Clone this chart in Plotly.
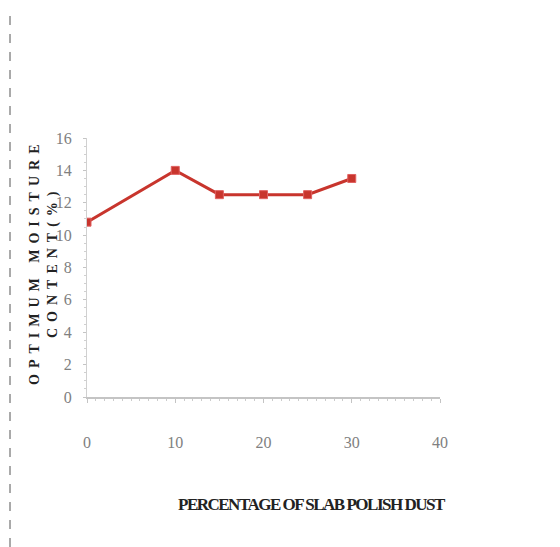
import plotly.graph_objects as go

# Data
slab_dust_pct = [0, 10, 15, 20, 25, 30]
omc_pct = [10.8, 14.0, 12.5, 12.5, 12.5, 13.5]
x_ticks = [0, 10, 20, 30, 40]
y_ticks = [0, 2, 4, 6, 8, 10, 12, 14, 16]

W, H = 560, 547
OFF = 8  # page body margin
L, R, T, B = 87 - OFF, 120 + OFF, 138 - OFF, 150 + OFF
pw, ph = W - L - R, H - T - B


def px(xp):
    return (xp - OFF - L) / pw


def py(yp):
    return (H - B - (yp - OFF)) / ph


fig = go.Figure()
fig.add_trace(go.Scatter(
    x=slab_dust_pct, y=omc_pct, mode="lines+markers",
    line=dict(color="#c8352d", width=3),
    marker=dict(symbol="square", size=8, color="#c8352d",
                line=dict(color="#e06060", width=1)),
    showlegend=False,
))

axis_font = dict(family="Liberation Serif", size=16, color="#808080")
fig.update_xaxes(
    range=[0, 40], tickvals=x_ticks, showgrid=False, zeroline=False,
    showline=True, linecolor="#c4c4c4", linewidth=2,
    ticks="outside", ticklen=4, tickcolor="#c4c4c4",
    minor=dict(ticks="outside", ticklen=2, tickcolor="#cccccc", dtick=1),
    tickfont=axis_font, ticklabelstandoff=26,
)
fig.update_yaxes(
    range=[0, 16], tickvals=y_ticks, showgrid=False, zeroline=False,
    showline=True, linecolor="#d0d0d0", linewidth=1,
    ticks="outside", ticklen=3, tickcolor="#c4c4c4",
    minor=dict(ticks="outside", ticklen=2, tickcolor="#d0d0d0", dtick=0.5),
    tickfont=axis_font, ticklabelstandoff=8,
)

fig.add_annotation(
    xref="paper", yref="paper", x=px(25), y=py(262),
    text='<span style="letter-spacing:6px"><b>OPTIMUM MOISTURE<br>CONTENT(%)</b></span>',
    textangle=-90, showarrow=False, align="center",
    font=dict(family="Liberation Serif", size=14, color="#222222"),
)
fig.add_annotation(
    xref="paper", yref="paper", x=px(312), y=py(516),
    text='<span style="letter-spacing:-1.5px"><b>PERCENTAGE OF SLAB POLISH DUST</b></span>',
    showarrow=False,
    font=dict(family="Liberation Serif", size=17, color="#222222"),
)
fig.add_shape(
    type="line", xref="paper", yref="paper",
    x0=px(10), x1=px(10), y0=py(547), y1=py(0),
    line=dict(color="#555555", width=1, dash="dash"),
)

fig.update_layout(
    width=W, height=H, margin=dict(l=L, r=R, t=T, b=B),
    paper_bgcolor="white", plot_bgcolor="white",
)
fig.write_html("out.html")
